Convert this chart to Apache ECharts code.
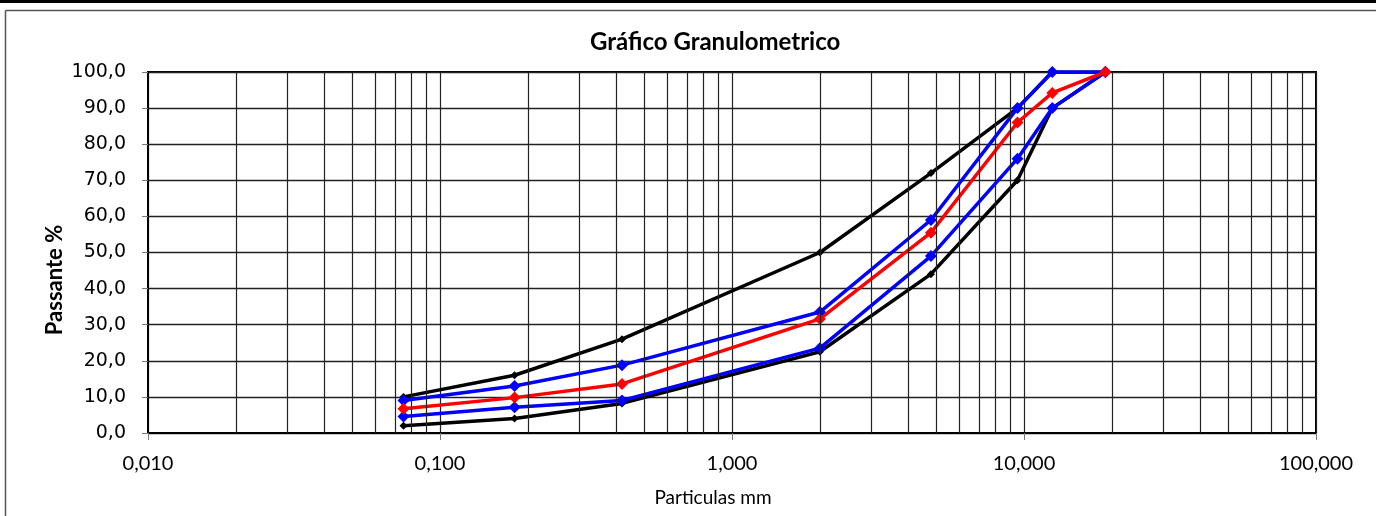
<!DOCTYPE html>
<html>
<head>
<meta charset="utf-8">
<script src="https://cdn.jsdelivr.net/npm/echarts@6/dist/echarts.min.js"></script>
<style>
html,body{margin:0;padding:0;background:#fff;}
#chart{width:1376px;height:516px;}
</style>
</head>
<body>
<div id="chart"></div>
<script>
// Sieve openings (mm)
const sieves = [0.075, 0.18, 0.42, 2.0, 4.8, 9.5, 12.5, 19.0];
// Passing % per curve
const blackUpper = [10, 16, 26, 50, 72, 90, 100, 100];
const blackLower = [2, 4, 8.2, 22.5, 44, 70, 90, 100];
const blueUpper  = [9, 13, 18.8, 33.5, 59, 90, 100, 100];
const blueLower  = [4.6, 7.1, 9, 23.5, 49, 76, 90, 100];
const redCurve   = [6.7, 9.8, 13.6, 31.6, 55.5, 86, 94.2, 100];

const title = 'Gráfico Granulometrico';
const xName = 'Particulas mm';
const yName = 'Passante %';

// minor log grid values (2..9 per decade)
const minorGrid = [];
[0.01, 0.1, 1, 10].forEach(d => { for (let k = 2; k <= 9; k++) minorGrid.push(+(d * k).toPrecision(3)); });

function pairs(ys) { return sieves.map((x, i) => [x, ys[i]]); }

const chart = echarts.init(document.getElementById('chart'), null, {renderer: 'canvas'});

function mk(name, ys, color, size, extra) {
  return Object.assign({
    name: name,
    type: 'line',
    data: pairs(ys),
    symbol: 'diamond',
    symbolSize: size,
    showSymbol: true,
    lineStyle: {color: color, width: 3.5},
    itemStyle: {color: color},
    animation: false,
    z: 3
  }, extra || {});
}

chart.setOption({
  animation: false,
  title: {
    text: title, left: 585, top: 25,
    textStyle: {fontFamily: 'Lato', fontWeight: 'bold', fontSize: 24, color: '#000'}
  },
  grid: {left: 148, right: 60, top: 72, bottom: 83, show: true, borderColor: '#000', borderWidth: 2, backgroundColor: 'transparent'},
  xAxis: {
    type: 'log', logBase: 10, min: 0.01, max: 100,
    name: xName, nameLocation: 'middle', nameGap: 55,
    nameTextStyle: {fontFamily: 'Lato', fontSize: 19, color: '#000', padding: [0, 38, 0, 0]},
    axisLine: {onZero: false, lineStyle: {color: '#000', width: 2}},
    axisTick: {show: true, length: 7, lineStyle: {color: '#777', width: 1}},
    axisLabel: {margin: 21, fontFamily: 'Lato', fontSize: 20, color: '#000',
      formatter: v => Number(v).toFixed(3).replace('.', ',')},
    splitLine: {show: true, lineStyle: {color: '#222', width: 1.2}},
    minorTick: {show: false},
    minorSplitLine: {show: false}
  },
  yAxis: {
    type: 'value', min: 0, max: 100, interval: 10,
    axisLine: {show: true, lineStyle: {color: '#000', width: 2}},
    axisTick: {show: true, length: 6, lineStyle: {color: '#777', width: 1}},
    axisLabel: {margin: 22, fontFamily: 'DejaVu Sans', fontSize: 19, color: '#000',
      formatter: v => v.toFixed(1).replace('.', ',')},
    splitLine: {show: true, lineStyle: {color: '#222', width: 1.3}}
  },
  graphic: [
    {type: 'rect', left: 0, top: 0, shape: {width: 1376, height: 3}, style: {fill: '#000'}, silent: true},
    {type: 'line', shape: {x1: 5.5, y1: 10.5, x2: 1376, y2: 10.5}, style: {stroke: '#555', lineWidth: 1.5}, silent: true},
    {type: 'line', shape: {x1: 5.5, y1: 10.5, x2: 5.5, y2: 516}, style: {stroke: '#555', lineWidth: 1.5}, silent: true},
    {type: 'text', x: 55, y: 280, rotation: Math.PI / 2,
      style: {text: yName, fontFamily: 'Lato', fontWeight: 'bold', fontSize: 22, fill: '#000', align: 'center', verticalAlign: 'middle'}}
  ],
  series: [
    mk('Limite superior', blackUpper, '#000', 8, {
      markLine: {
        silent: true, symbol: 'none', animation: false,
        label: {show: false},
        lineStyle: {color: '#222', width: 1.2, type: 'solid'},
        data: minorGrid.map(v => ({xAxis: v}))
      }
    }),
    mk('Limite inferior', blackLower, '#000', 8),
    mk('Faixa superior', blueUpper, '#0000ff', 12),
    mk('Faixa inferior', blueLower, '#0000ff', 12),
    mk('Amostra', redCurve, '#ff0000', 12)
  ]
});
</script>
</body>
</html>
